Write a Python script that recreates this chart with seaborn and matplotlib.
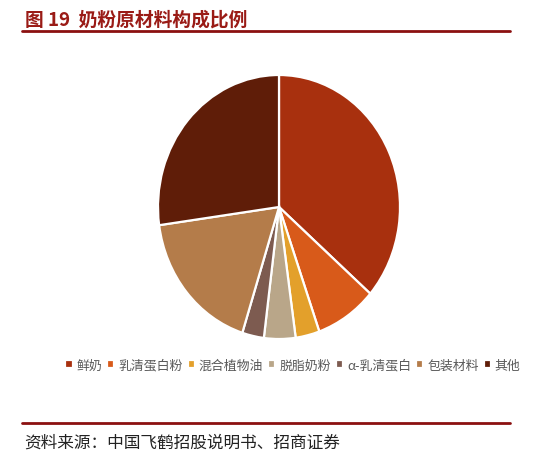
import matplotlib
matplotlib.use("Agg")
import matplotlib.pyplot as plt
import seaborn as sns

categories = ["鲜奶", "乳清蛋白粉", "混合植物油", "脱脂奶粉", "α-乳清蛋白", "包装材料", "其他"]
values = [36.4, 8.2, 3.2, 4.2, 2.9, 17.9, 27.2]
colors_hex = ["#A8300E", "#D85A1A", "#E3A02B", "#B9A689", "#7D5B50", "#B47C4A", "#5F1D08"]
title = "图 19  奶粉原材料构成比例"
source = "资料来源：中国飞鹤招股说明书、招商证券"

sns.set_theme(style="white")
plt.rcParams['font.family'] = ['Noto Sans CJK SC', 'DejaVu Sans']
palette = sns.color_palette(colors_hex)

fig = plt.figure(figsize=(5.54, 4.64), dpi=100)
W, H = 554, 464

ax = fig.add_axes([158 / W, (H - 340) / H, 242 / W, 264 / H])
wedges, _ = ax.pie(values, colors=palette, startangle=90, counterclock=False,
                   radius=1.0, wedgeprops=dict(edgecolor="white", linewidth=1.6))
ax.set_aspect("auto")
ax.set_xlim(-1.0, 1.0)
ax.set_ylim(-1.0, 1.0)
ax.axis("off")

# title and rules
red = "#9A1B16"
fig.text(25 / W, 1 - 20 / H, title, fontsize=13.5, fontweight="bold", color=red,
         va="center", ha="left")
fig.add_artist(plt.Line2D([22 / W, 510 / W], [1 - 32 / H, 1 - 32 / H], color="#8B1010", lw=2))
fig.add_artist(plt.Line2D([22 / W, 510 / W], [1 - 424 / H, 1 - 424 / H], color="#8B1010", lw=2))
fig.text(24 / W, 1 - 443 / H, source, fontsize=12, color="#222222", va="center", ha="left")

leg = fig.legend(wedges, categories, loc="center", bbox_to_anchor=(293 / W, 1 - 366 / H),
                 ncol=7, frameon=False, fontsize=9.3, handlelength=0.55, handleheight=0.55,
                 handletextpad=0.3, columnspacing=0.4, borderpad=0)
for t in leg.get_texts():
    t.set_color("#595959")

fig.savefig("out.png", dpi=100)
